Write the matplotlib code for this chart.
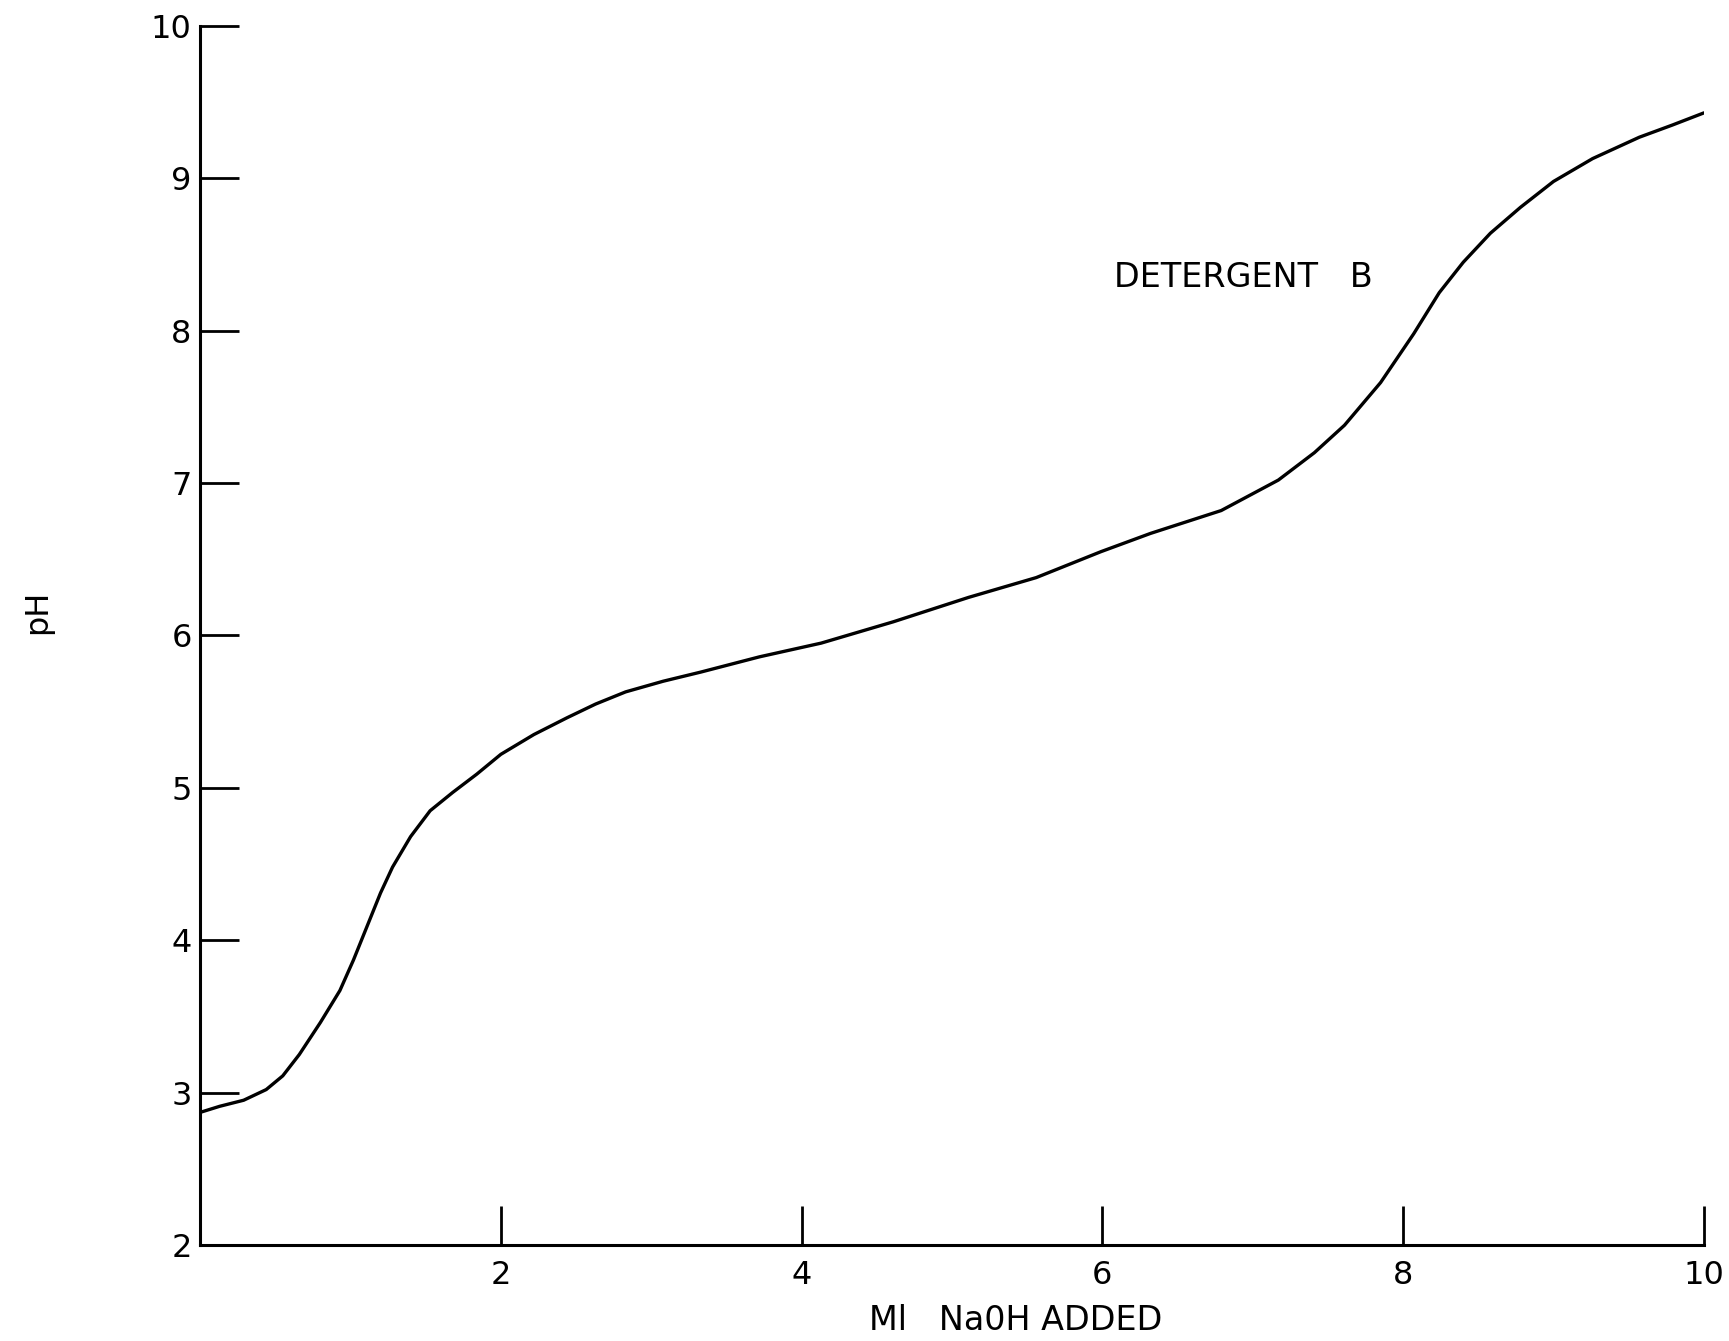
import matplotlib
matplotlib.use('Agg')
import matplotlib.pyplot as plt

# titration curve
ml_naoh = [0, 0.13, 0.29, 0.44, 0.55, 0.66, 0.80, 0.93, 1.02, 1.11, 1.20,
           1.28, 1.40, 1.53, 1.68, 1.84, 2.0, 2.22, 2.44, 2.63, 2.83, 3.08,
           3.33, 3.72, 4.13, 4.61, 5.11, 5.56, 5.99, 6.32, 6.79, 7.17, 7.41,
           7.61, 7.85, 8.07, 8.24, 8.40, 8.58, 8.78, 9.00, 9.26, 9.57, 9.79,
           10.0]
ph = [2.87, 2.91, 2.95, 3.02, 3.11, 3.25, 3.46, 3.67, 3.87, 4.09, 4.31,
      4.48, 4.68, 4.85, 4.97, 5.09, 5.22, 5.35, 5.46, 5.55, 5.63, 5.70,
      5.76, 5.86, 5.95, 6.09, 6.25, 6.38, 6.55, 6.67, 6.82, 7.02, 7.20,
      7.38, 7.66, 7.98, 8.25, 8.45, 8.64, 8.81, 8.98, 9.13, 9.27, 9.35,
      9.43]

x_ticks = [2, 4, 6, 8, 10]
y_ticks = [2, 3, 4, 5, 6, 7, 8, 9, 10]

plt.rcParams['font.family'] = ['DejaVu Sans']

fig = plt.figure(figsize=(17.29, 13.41), dpi=100)
fig.patch.set_facecolor('white')
ax = fig.add_axes([0.1157, 0.0716, 0.8698, 0.909])

ax.plot(ml_naoh, ph, color='black', linewidth=2.4, solid_joinstyle='round',
        solid_capstyle='round')

ax.set_xlim(0, 10)
ax.set_ylim(2, 10)
ax.set_xticks(x_ticks)
ax.set_yticks(y_ticks)
ax.set_xticklabels([str(t) for t in x_ticks])
ax.set_yticklabels([str(t) for t in y_ticks])

for side in ['top', 'right']:
    ax.spines[side].set_visible(False)
for side in ['left', 'bottom']:
    ax.spines[side].set_linewidth(2.2)
    ax.spines[side].set_color('black')

ax.tick_params(axis='both', direction='in', length=28, width=2.0,
               colors='black', labelsize=23)
ax.tick_params(axis='x', pad=11)
ax.tick_params(axis='y', pad=6)
for lab in ax.get_xticklabels() + ax.get_yticklabels():
    lab.set_fontweight('medium')

ax.text(6.08, 8.35, 'DETERGENT   B', fontsize=24, ha='left', va='center')

fig.text(1016 / 1729, 1 - 1320 / 1341, 'Ml   Na0H ADDED', fontsize=24,
         ha='center', va='center')
fig.text(38 / 1729, 1 - 612 / 1341, 'pH', fontsize=23, rotation=90,
         ha='center', va='center')

fig.savefig('out.png', dpi=100, facecolor='white')
plt.close()
